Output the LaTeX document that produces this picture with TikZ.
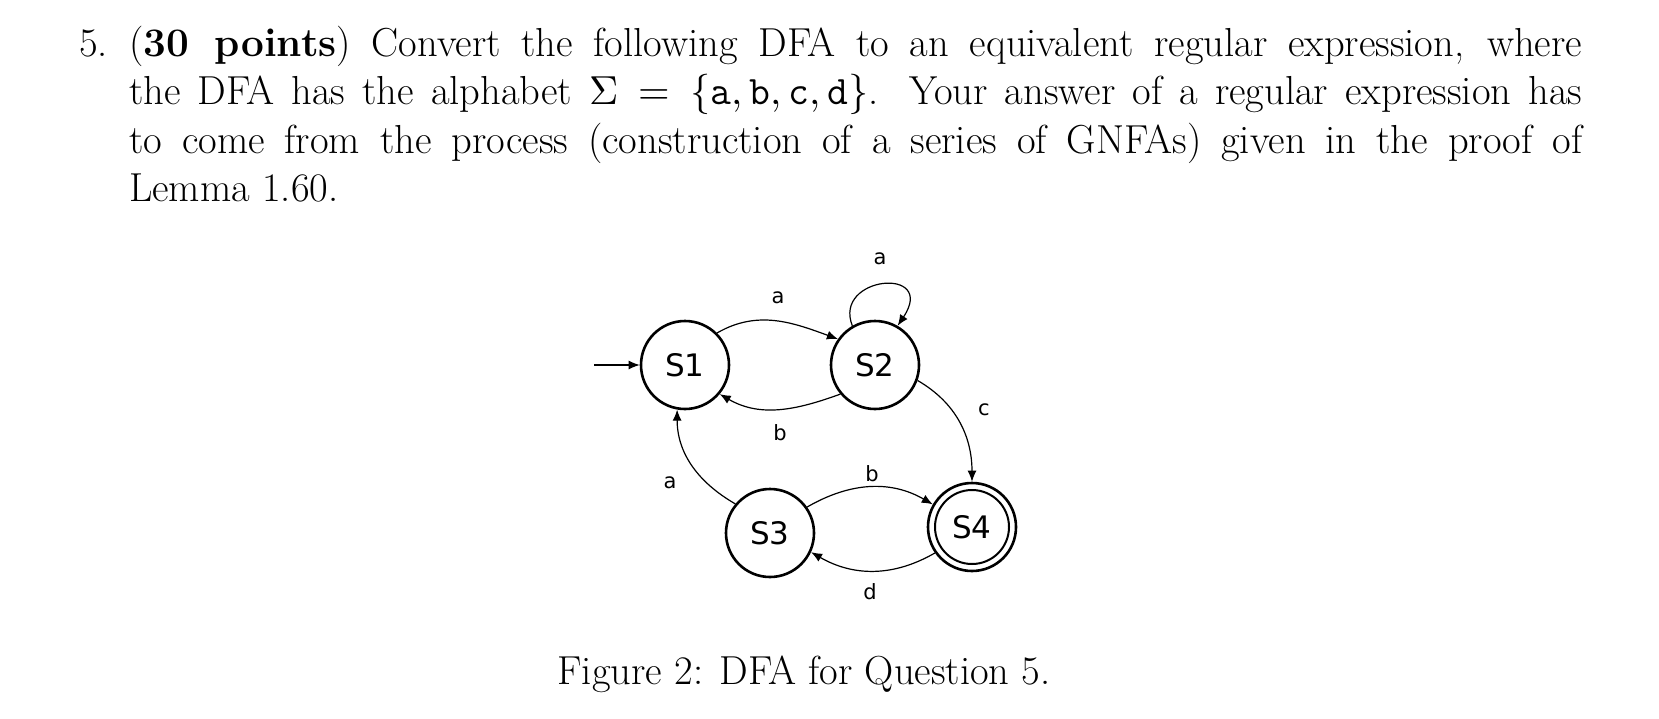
\documentclass[tikz,border=0pt]{standalone}
\usepackage{unicode-math}
\setmathfont{Latin Modern Math}
\newfontfamily\dv{DejaVu Sans}
\usetikzlibrary{arrows.meta}
\begin{document}
\begin{tikzpicture}[x=1pt,y=-1pt,
  st/.style={circle,draw,line width=2.6pt,minimum size=88pt,inner sep=0pt,font=\dv\fontsize{31}{31}\selectfont},
  ed/.style={line width=1.2pt,-{Latex[length=11pt,width=9pt]}},
  lb/.style={font=\dv\fontsize{21}{21}\selectfont},
  body/.style={font=\fontsize{40.5}{48.5}\selectfont}]
\useasboundingbox (0,0) rectangle (1659,718);
\node[anchor=north west,inner sep=0pt,body] (num) at (79,22) {\strut 5.};
\node[anchor=north west,text width=1453pt,align=justify,inner sep=0pt,body] (txt) at (129,22)
{\strut(\textbf{30 points}) Convert the following DFA to an equivalent regular expression, where\linebreak
the DFA has the alphabet $\Sigma=\{\mathtt{a},\mathtt{b},\mathtt{c},\mathtt{d}\}$. Your answer of a regular expression has\linebreak
to come from the process (construction of a series of GNFAs) given in the proof of\linebreak
Lemma 1.60.};
\node[st] (s1) at (685,365) {S1};
\node[st] (s2) at (875,365) {S2};
\node[st] (s3) at (770,533) {S3};
\node[st] (s4) at (972,527) {};
\node[circle,draw,line width=2pt,minimum size=74pt,inner sep=0pt,font=\dv\fontsize{31}{31}\selectfont] (s4i) at (s4) {S4};
\coordinate (init) at (594,365);
\draw[ed] (init) -- (s1);
\draw[ed] (s1.45) to[out=30,in=160] (s2.145);
\draw[ed] (s2.220) to[out=200,in=-30] (s1.-40);
\draw[ed] (s2.120) .. controls +(-20,-50) and +(40,-60) .. (s2.60);
\draw[ed] (s2.-20) to[out=-30,in=90] (s4.90);
\draw[ed] (s3.140) to[out=150,in=-90] (s1.-100);
\draw[ed] (s3.35) to[out=30,in=150] (s4.150);
\draw[ed] (s4.215) to[out=210,in=-30] (s3.-25);
\node[lb] (l1) at (778,298) {a};
\node[lb] (l2) at (880,259) {a};
\node[lb] (l3) at (780,433) {b};
\node[lb] (l4) at (984,410) {c};
\node[lb] (l5) at (872,474) {b};
\node[lb] (l6) at (670,483) {a};
\node[lb] (l7) at (870,592) {d};
\node[body] (cap) at (804,674) {Figure 2: DFA for Question 5.};
\end{tikzpicture}
\end{document}
